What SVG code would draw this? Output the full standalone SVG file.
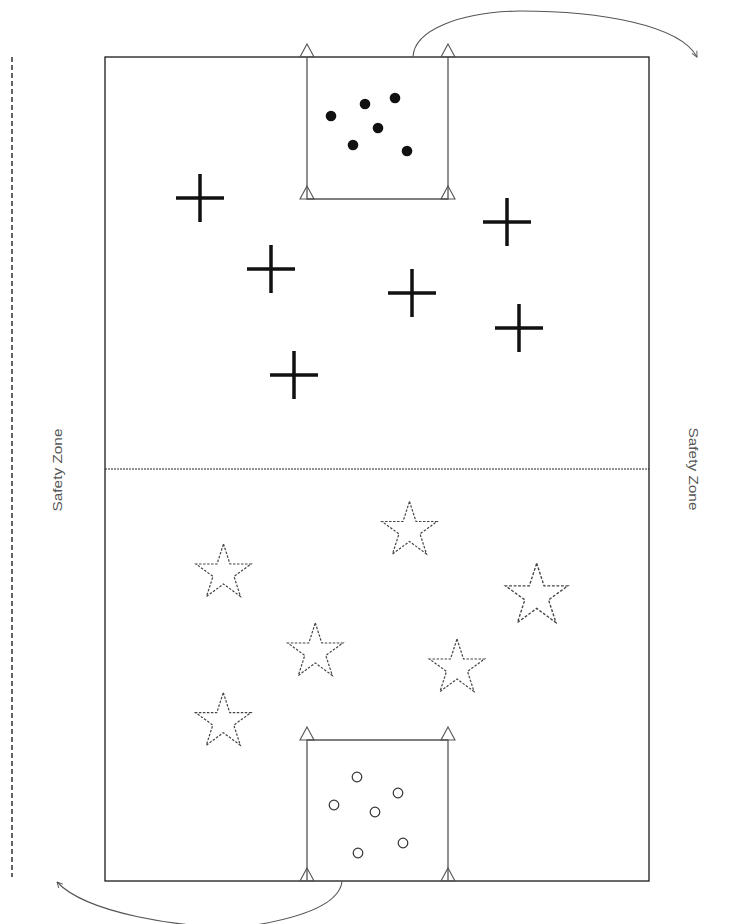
<svg xmlns="http://www.w3.org/2000/svg" width="733" height="924" viewBox="0 0 733 924">
<defs>
<style>
.field{fill:none;stroke:#1a1a1a;stroke-width:1.3}
.box{fill:none;stroke:#555;stroke-width:1.3}
.tri{fill:none;stroke:#555;stroke-width:1.1}
.cross{stroke:#111;stroke-width:3.5;fill:none}
.star{fill:none;stroke:#444;stroke-width:1.2;stroke-dasharray:2.5 1.5}
.dot{fill:#111}
.ring{fill:none;stroke:#333;stroke-width:1.2}
.conn{fill:none;stroke:#555;stroke-width:1.1}
.lbl{font-family:"Liberation Sans",Arial,sans-serif;font-size:12.5px;fill:#555}
</style>
<marker id="ah" viewBox="0 0 10 10" refX="9" refY="5" markerWidth="7" markerHeight="7" orient="auto" markerUnits="userSpaceOnUse">
<path d="M1,1 L9,5 L1,9" fill="none" stroke="#555" stroke-width="1.3"/>
</marker>
<path id="star" d="M0,-29 L6.5,-9 L27.6,-9 L10.5,3.4 L17,23.5 L0,11 L-17,23.5 L-10.5,3.4 L-27.6,-9 L-6.5,-9 Z"/>
<path id="tri" d="M0,-13 L7,0 L-7,0 Z"/>
<path id="cross" d="M-24,0 H24 M0,-24 V24"/>
</defs>

<g id="sideline">
<line x1="12" y1="57" x2="12" y2="877" stroke="#111" stroke-width="1.3" stroke-dasharray="5 3"/>
</g>

<g id="field">
<rect class="field" x="105" y="57" width="544" height="824"/>
<line x1="105" y1="469" x2="649" y2="469" stroke="#222" stroke-width="1" stroke-dasharray="2 1"/>
</g>

<g id="top-box">
<path class="box" d="M307,57 V199 H448 V57"/>
<use href="#tri" class="tri" x="307" y="57"/>
<use href="#tri" class="tri" x="448" y="57"/>
<use href="#tri" class="tri" x="307" y="199"/>
<use href="#tri" class="tri" x="448" y="199"/>
<circle class="dot" cx="331" cy="116" r="5.3"/>
<circle class="dot" cx="365" cy="104" r="5.3"/>
<circle class="dot" cx="395" cy="98" r="5.3"/>
<circle class="dot" cx="378" cy="128" r="5.3"/>
<circle class="dot" cx="353" cy="145" r="5.3"/>
<circle class="dot" cx="407" cy="151" r="5.3"/>
</g>

<g id="bottom-box">
<path class="box" d="M307,881 V740 H448 V881"/>
<use href="#tri" class="tri" x="307" y="740"/>
<use href="#tri" class="tri" x="448" y="740"/>
<use href="#tri" class="tri" x="307" y="881"/>
<use href="#tri" class="tri" x="448" y="881"/>
<circle class="ring" cx="357" cy="777" r="4.8"/>
<circle class="ring" cx="398" cy="793" r="4.8"/>
<circle class="ring" cx="334" cy="805" r="4.8"/>
<circle class="ring" cx="375" cy="812" r="4.8"/>
<circle class="ring" cx="403" cy="843" r="4.8"/>
<circle class="ring" cx="358" cy="853" r="4.8"/>
</g>

<g id="crosses">
<use href="#cross" class="cross" x="200" y="198"/>
<use href="#cross" class="cross" x="271" y="269"/>
<use href="#cross" class="cross" x="294" y="375"/>
<use href="#cross" class="cross" x="507" y="222"/>
<use href="#cross" class="cross" x="412" y="293"/>
<use href="#cross" class="cross" x="519" y="328"/>
</g>

<g id="stars">
<use href="#star" class="star" x="223.5" y="573"/>
<use href="#star" class="star" x="409.5" y="530.5"/>
<use href="#star" class="star" transform="translate(536.7,596) scale(1.13)"/>
<use href="#star" class="star" x="457" y="668"/>
<use href="#star" class="star" x="315.3" y="652"/>
<use href="#star" class="star" x="223.3" y="721.7"/>
</g>

<g id="connectors">
<path class="conn" d="M413,57 C414,30 460,12 520,11 C600,11 680,25 697,57" marker-end="url(#ah)"/>
<path class="conn" d="M342,881 C340,905 300,918 250,926 C180,930 85,912 57,882" marker-end="url(#ah)"/>
</g>

<g id="labels">
<text class="lbl" transform="translate(62,470) rotate(-90)" text-anchor="middle" textLength="83" lengthAdjust="spacingAndGlyphs">Safety Zone</text>
<text class="lbl" transform="translate(689,469) rotate(90)" text-anchor="middle" textLength="83" lengthAdjust="spacingAndGlyphs">Safety Zone</text>
</g>
</svg>
